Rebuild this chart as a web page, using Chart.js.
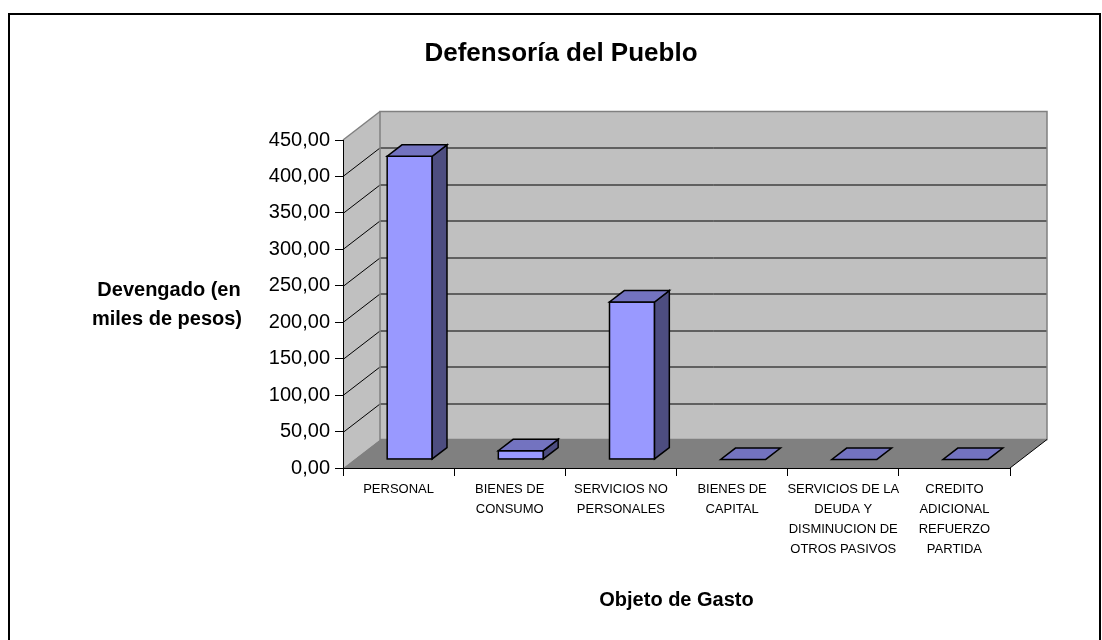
<!DOCTYPE html>
<html>
<head>
<meta charset="utf-8">
<title>Defensoría del Pueblo</title>
<script src="https://cdn.jsdelivr.net/npm/chart.js@4.4.1/dist/chart.umd.min.js"></script>
<style>
  html, body { margin: 0; padding: 0; background: #fff; }
  canvas { display: block; }
</style>
</head>
<body>
<canvas id="gastoChart" width="1102" height="640"></canvas>
<script>
// Data
const categories = [
  "PERSONAL",
  ["BIENES DE", "CONSUMO"],
  ["SERVICIOS NO", "PERSONALES"],
  ["BIENES DE", "CAPITAL"],
  ["SERVICIOS DE LA", "DEUDA Y", "DISMINUCION DE", "OTROS PASIVOS"],
  ["CREDITO", "ADICIONAL", "REFUERZO", "PARTIDA"],
];
const devengado = [416, 12, 216, 0, 0, 0];
const yTickValues = [0, 50, 100, 150, 200, 250, 300, 350, 400, 450];

const FONT = "'Liberation Sans', Arial, sans-serif";

// Oblique depth of the Excel-style 3D box (floor/back wall offset)
const DEPTH = { x: 37, y: -28.5 };
const FRONT = 0.3; // bars start at 30% of depth
const BACK = 0.7;  // ...and end at 70%

function poly(ctx, pts) {
  ctx.beginPath();
  ctx.moveTo(pts[0][0], pts[0][1]);
  for (let i = 1; i < pts.length; i++) ctx.lineTo(pts[i][0], pts[i][1]);
  ctx.closePath();
}

const excel3d = {
  id: "excel3d",
  beforeDraw(chart) {
    const { ctx, chartArea: a } = chart;
    const y = chart.scales.y;
    ctx.save();
    ctx.fillStyle = "#fff";
    ctx.fillRect(0, 0, chart.width, chart.height);

    // outer frame
    ctx.strokeStyle = "#000";
    ctx.lineWidth = 2;
    ctx.strokeRect(9, 14, 1091, 700);

    const bx0 = a.left + DEPTH.x, bx1 = a.right + DEPTH.x;
    const by0 = a.top + DEPTH.y, by1 = a.bottom + DEPTH.y;

    // back wall + side wall
    ctx.fillStyle = "#c0c0c0";
    ctx.fillRect(bx0, by0, bx1 - bx0, by1 - by0);
    poly(ctx, [[a.left, a.top], [bx0, by0], [bx0, by1], [a.left, a.bottom]]);
    ctx.fill();

    // floor
    ctx.fillStyle = "#808080";
    poly(ctx, [[a.left, a.bottom], [a.right, a.bottom], [bx1, by1], [bx0, by1]]);
    ctx.fill();

    // gridlines on the walls
    ctx.strokeStyle = "#000";
    ctx.lineWidth = 1;
    yTickValues.forEach((v) => {
      if (v === yTickValues[0] || v === yTickValues[yTickValues.length - 1]) return;
      const py = Math.round(y.getPixelForValue(v)) + 0.5;
      ctx.beginPath();
      ctx.moveTo(a.left, py);
      ctx.lineTo(bx0, py + DEPTH.y);
      ctx.lineTo(bx1, py + DEPTH.y);
      ctx.stroke();
    });

    // wall outlines
    ctx.strokeStyle = "#808080";
    ctx.lineWidth = 1.5;
    ctx.strokeRect(bx0, by0, bx1 - bx0, by1 - by0);
    ctx.beginPath();
    ctx.moveTo(a.left, a.top);
    ctx.lineTo(bx0, by0);
    ctx.stroke();

    ctx.strokeStyle = "#000";
    ctx.lineWidth = 1;
    ctx.beginPath();
    ctx.moveTo(a.right, a.bottom);
    ctx.lineTo(bx1, by1);
    ctx.stroke();
    ctx.restore();
  },
  afterDatasetsDraw(chart) {
    const { ctx } = chart;
    const meta = chart.getDatasetMeta(0);
    ctx.save();
    ctx.strokeStyle = "#000";
    ctx.lineWidth = 1.5;
    ctx.lineJoin = "miter";
    meta.data.forEach((bar) => {
      const { x, y, base, width } = bar.getProps(["x", "y", "base", "width"], true);
      const x0 = x - width / 2 + DEPTH.x * FRONT;
      const x1 = x + width / 2 + DEPTH.x * FRONT;
      const yt = y + DEPTH.y * FRONT;
      const yb = base + DEPTH.y * FRONT;
      const dx = DEPTH.x * (BACK - FRONT);
      const dy = DEPTH.y * (BACK - FRONT);
      if (yb - yt > 0.5) {
        ctx.fillStyle = "#9999ff";
        ctx.fillRect(x0, yt, x1 - x0, yb - yt);
        ctx.strokeRect(x0, yt, x1 - x0, yb - yt);
        ctx.fillStyle = "#4d4d80";
        poly(ctx, [[x1, yt], [x1 + dx, yt + dy], [x1 + dx, yb + dy], [x1, yb]]);
        ctx.fill();
        ctx.stroke();
      }
      ctx.fillStyle = "#7373c0";
      poly(ctx, [[x0, yt], [x1, yt], [x1 + dx, yt + dy], [x0 + dx, yt + dy]]);
      ctx.fill();
      ctx.stroke();
    });
    ctx.restore();
  },
  afterDraw(chart) {
    const { ctx } = chart;
    ctx.save();
    ctx.fillStyle = "#000";
    ctx.textAlign = "center";
    ctx.textBaseline = "alphabetic";
    ctx.font = "bold 26px " + FONT;
    ctx.fillText("Defensoría del Pueblo", 561, 61);
    ctx.font = "bold 20px " + FONT;
    ctx.fillText("Devengado (en", 169, 296);
    ctx.fillText("miles de pesos)", 167, 325);
    ctx.restore();
  },
};

const ctx = document.getElementById("gastoChart").getContext("2d");
new Chart(ctx, {
  type: "bar",
  data: {
    labels: categories,
    datasets: [
      {
        label: "Devengado",
        data: devengado,
        backgroundColor: "rgba(0,0,0,0)",
        borderWidth: 0,
        barPercentage: 0.405,
        categoryPercentage: 1,
      },
    ],
  },
  options: {
    responsive: false,
    animation: false,
    devicePixelRatio: 1,
    layout: { padding: { left: 263, right: 92, top: 140, bottom: 22 } },
    plugins: {
      legend: { display: false },
      title: { display: false },
      tooltip: { enabled: false },
    },
    scales: {
      x: {
        grid: { drawOnChartArea: false, drawTicks: true, tickLength: 8, color: "#000" },
        border: { color: "#000", width: 1 },
        ticks: {
          color: "#000",
          autoSkip: false,
          maxRotation: 0,
          padding: 3,
          font: { family: FONT, size: 13, lineHeight: 20 / 13 },
        },
        title: {
          display: true,
          text: "Objeto de Gasto",
          color: "#000",
          font: { family: FONT, size: 20, weight: "bold", lineHeight: 1.2 },
          padding: { top: 0, bottom: 6 },
        },
        afterFit(scale) { scale.height = 150; },
      },
      y: {
        min: 0,
        max: 450,
        afterBuildTicks(scale) { scale.ticks = yTickValues.map((v) => ({ value: v })); },
        grid: { drawOnChartArea: false, drawTicks: true, tickLength: 8, color: "#000" },
        border: { color: "#000", width: 1 },
        ticks: {
          color: "#000",
          padding: 5,
          font: { family: FONT, size: 20 },
          callback: (v) => Number(v).toFixed(2).replace(".", ","),
        },
        afterFit(scale) { scale.width = 80; },
      },
    },
  },
  plugins: [excel3d],
});
</script>
</body>
</html>
